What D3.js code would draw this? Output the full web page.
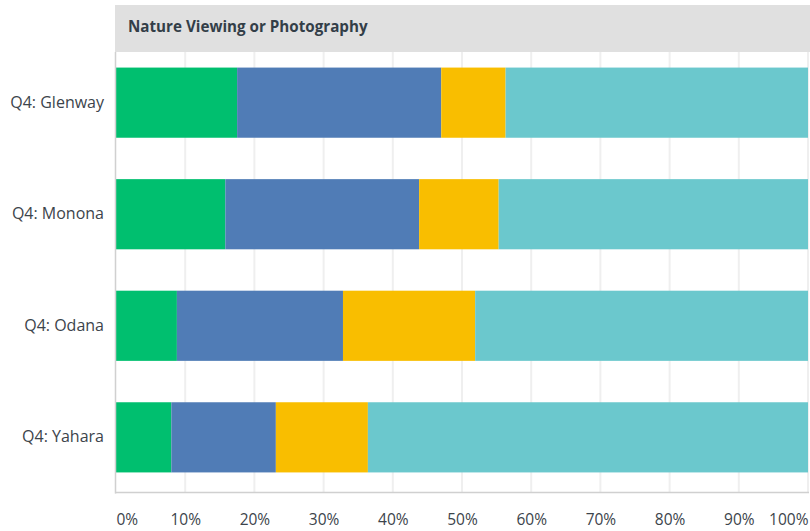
<!DOCTYPE html>
<html><head><meta charset="utf-8">
<script src="https://cdn.jsdelivr.net/npm/d3@7"></script>
<style>
html,body{margin:0;padding:0;background:#fff;}
svg{display:block;font-family:"Open Sans",sans-serif;}
</style></head>
<body><svg id="c" width="810" height="531"></svg>
<script>
const title = "Nature Viewing or Photography";
const categories = ["Q4: Glenway", "Q4: Monona", "Q4: Odana", "Q4: Yahara"];
const seriesNames = ["S1", "S2", "S3", "S4"];
const s1 = [17.5, 15.8, 8.8, 8.0];
const s2 = [29.5, 28.0, 24.0, 15.1];
const s3 = [9.3, 11.5, 19.1, 13.3];
const s4 = [43.7, 44.7, 48.1, 63.6];
const colors = ["#00bf6f", "#507cb6", "#f9be00", "#6bc8cd"];
const tickValues = [0,10,20,30,40,50,60,70,80,90,100];

const svg = d3.select("#c");
const x0 = 116, x1 = 808;
const x = d3.scaleLinear().domain([0,100]).range([x0, x1]);
const y = d3.scaleBand().domain(categories).range([49.5, 490.5]).paddingInner(0.371).paddingOuter(0.162);

// header
svg.append("rect").attr("x",115).attr("y",5).attr("width",695).attr("height",47).attr("fill","#e0e0e0");
svg.append("text").attr("x",128).attr("y",32).attr("fill","#333e48").attr("font-weight",700)
  .attr("font-size",15.2).text(title);

// grid
svg.append("g").selectAll("line").data(tickValues.slice(1)).join("line")
  .attr("x1",d=>x(d)).attr("x2",d=>x(d)).attr("y1",52).attr("y2",492)
  .attr("stroke","#efefef").attr("stroke-width",2);

// stacked data
const rows = categories.map((c,i)=>({cat:c, S1:s1[i], S2:s2[i], S3:s3[i], S4:s4[i]}));
const stack = d3.stack().keys(seriesNames)(rows);
svg.append("g").selectAll("g").data(stack).join("g").attr("fill",(d,i)=>colors[i])
  .selectAll("rect").data(d=>d).join("rect")
  .attr("x",d=>x(d[0])).attr("width",d=>Math.min(x(d[1]),x1+1)-x(d[0]))
  .attr("y",d=>y(d.data.cat)).attr("height",y.bandwidth());

// axes lines
svg.append("line").attr("x1",115.5).attr("x2",115.5).attr("y1",52).attr("y2",493.5).attr("stroke","#d0d0d0").attr("stroke-width",1.5);
svg.append("line").attr("x1",115).attr("x2",809).attr("y1",492.5).attr("y2",492.5).attr("stroke","#d0d0d0").attr("stroke-width",1.5);

// x tick labels
const xa = svg.append("g").attr("transform","translate(0,492)")
  .call(d3.axisBottom(x).tickValues(tickValues).tickFormat(d=>d+"%").tickSize(0).tickPadding(22));
xa.select(".domain").remove();
xa.selectAll("text").attr("fill","#3c444b").attr("font-size",15.5).attr("font-family","Open Sans")
  .attr("text-anchor",d=>d===0?"start":(d===100?"end":"middle"))
  .attr("dx",d=>d===100?0:0);

// y labels
const ya = svg.append("g").attr("transform","translate(104,0)")
  .call(d3.axisLeft(y).tickSize(0).tickPadding(0));
ya.select(".domain").remove();
ya.selectAll("text").attr("fill","#3c444b").attr("font-size",16).attr("font-family","Open Sans");
</script></body></html>
